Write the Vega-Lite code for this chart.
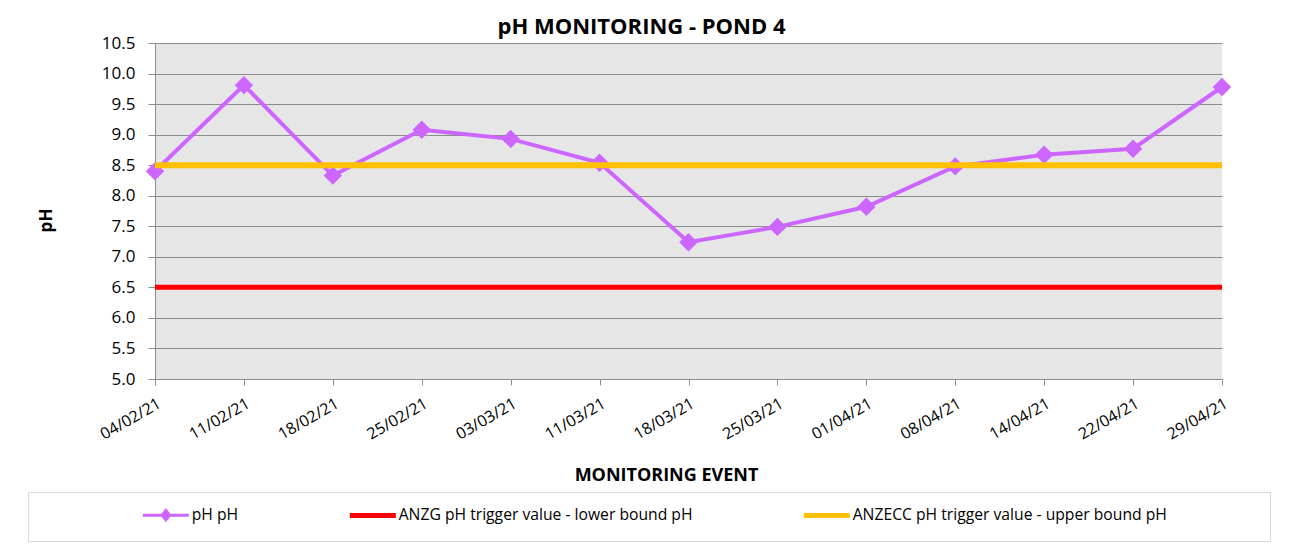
{
  "$schema": "https://vega.github.io/schema/vega-lite/v6.json",
  "width": 1067,
  "height": 336,
  "autosize": {"type": "none"},
  "padding": {"left": 155, "top": 43, "right": 70, "bottom": 175},
  "background": "white",
  "config": {
    "view": {"fill": "#E6E6E6", "stroke": null},
    "font": "Open Sans"
  },
  "title": {
    "text": "pH MONITORING - POND 4",
    "font": "Open Sans",
    "fontSize": 22,
    "fontWeight": "bold",
    "color": "#000000",
    "anchor": "middle",
    "frame": "group",
    "dx": -47,
    "dy": 9,
    "offset": 4
  },
  "data": {
    "values": [
      {"date": "04/02/21", "series": "pH pH", "value": 8.40},
      {"date": "11/02/21", "series": "pH pH", "value": 9.81},
      {"date": "18/02/21", "series": "pH pH", "value": 8.33},
      {"date": "25/02/21", "series": "pH pH", "value": 9.08},
      {"date": "03/03/21", "series": "pH pH", "value": 8.93},
      {"date": "11/03/21", "series": "pH pH", "value": 8.54},
      {"date": "18/03/21", "series": "pH pH", "value": 7.24},
      {"date": "25/03/21", "series": "pH pH", "value": 7.49},
      {"date": "01/04/21", "series": "pH pH", "value": 7.82},
      {"date": "08/04/21", "series": "pH pH", "value": 8.48},
      {"date": "14/04/21", "series": "pH pH", "value": 8.67},
      {"date": "22/04/21", "series": "pH pH", "value": 8.77},
      {"date": "29/04/21", "series": "pH pH", "value": 9.78},
      {"date": "04/02/21", "series": "ANZG pH trigger value - lower bound pH", "value": 6.5},
      {"date": "11/02/21", "series": "ANZG pH trigger value - lower bound pH", "value": 6.5},
      {"date": "18/02/21", "series": "ANZG pH trigger value - lower bound pH", "value": 6.5},
      {"date": "25/02/21", "series": "ANZG pH trigger value - lower bound pH", "value": 6.5},
      {"date": "03/03/21", "series": "ANZG pH trigger value - lower bound pH", "value": 6.5},
      {"date": "11/03/21", "series": "ANZG pH trigger value - lower bound pH", "value": 6.5},
      {"date": "18/03/21", "series": "ANZG pH trigger value - lower bound pH", "value": 6.5},
      {"date": "25/03/21", "series": "ANZG pH trigger value - lower bound pH", "value": 6.5},
      {"date": "01/04/21", "series": "ANZG pH trigger value - lower bound pH", "value": 6.5},
      {"date": "08/04/21", "series": "ANZG pH trigger value - lower bound pH", "value": 6.5},
      {"date": "14/04/21", "series": "ANZG pH trigger value - lower bound pH", "value": 6.5},
      {"date": "22/04/21", "series": "ANZG pH trigger value - lower bound pH", "value": 6.5},
      {"date": "29/04/21", "series": "ANZG pH trigger value - lower bound pH", "value": 6.5},
      {"date": "04/02/21", "series": "ANZECC pH trigger value - upper bound pH", "value": 8.5},
      {"date": "11/02/21", "series": "ANZECC pH trigger value - upper bound pH", "value": 8.5},
      {"date": "18/02/21", "series": "ANZECC pH trigger value - upper bound pH", "value": 8.5},
      {"date": "25/02/21", "series": "ANZECC pH trigger value - upper bound pH", "value": 8.5},
      {"date": "03/03/21", "series": "ANZECC pH trigger value - upper bound pH", "value": 8.5},
      {"date": "11/03/21", "series": "ANZECC pH trigger value - upper bound pH", "value": 8.5},
      {"date": "18/03/21", "series": "ANZECC pH trigger value - upper bound pH", "value": 8.5},
      {"date": "25/03/21", "series": "ANZECC pH trigger value - upper bound pH", "value": 8.5},
      {"date": "01/04/21", "series": "ANZECC pH trigger value - upper bound pH", "value": 8.5},
      {"date": "08/04/21", "series": "ANZECC pH trigger value - upper bound pH", "value": 8.5},
      {"date": "14/04/21", "series": "ANZECC pH trigger value - upper bound pH", "value": 8.5},
      {"date": "22/04/21", "series": "ANZECC pH trigger value - upper bound pH", "value": 8.5},
      {"date": "29/04/21", "series": "ANZECC pH trigger value - upper bound pH", "value": 8.5}
    ]
  },
  "encoding": {
    "x": {
      "field": "date",
      "type": "ordinal",
      "sort": ["04/02/21", "11/02/21", "18/02/21", "25/02/21", "03/03/21", "11/03/21", "18/03/21", "25/03/21", "01/04/21", "08/04/21", "14/04/21", "22/04/21", "29/04/21"],
      "scale": {"type": "point", "padding": 0},
      "axis": {
        "title": "MONITORING EVENT",
        "titleFont": "Open Sans",
        "titleFontSize": 18,
        "titleFontWeight": "bold",
        "titleColor": "#000000",
        "titleX": 511,
        "titleY": 101,
        "titleAlign": "center",
        "titleBaseline": "alphabetic",
        "labelAngle": -30,
        "labelAlign": "right",
        "labelBaseline": "top",
        "labelFont": "Open Sans",
        "labelFontSize": 16,
        "labelColor": "#000000",
        "labelPadding": 10,
        "tickSize": 6,
        "tickColor": "#8C8C8C",
        "domainColor": "#8C8C8C",
        "grid": false,
        "labelOverlap": false
      }
    },
    "y": {
      "field": "value",
      "type": "quantitative",
      "scale": {"domain": [5, 10.5], "nice": false, "zero": false},
      "axis": {
        "values": [5, 5.5, 6, 6.5, 7, 7.5, 8, 8.5, 9, 9.5, 10, 10.5],
        "format": ".1f",
        "title": "pH",
        "titleFont": "Open Sans",
        "titleFontSize": 17,
        "titleFontWeight": "bold",
        "titleColor": "#000000",
        "titleX": -109,
        "titleY": 177,
        "titleAngle": 270,
        "titleAlign": "center",
        "titleBaseline": "middle",
        "labelFont": "Open Sans",
        "labelFontSize": 17,
        "labelColor": "#000000",
        "labelPadding": 13,
        "tickSize": 7,
        "tickColor": "#8C8C8C",
        "domainColor": "#8C8C8C",
        "gridColor": "#8C8C8C",
        "gridWidth": 1
      }
    }
  },
  "layer": [
    {
      "transform": [{"filter": "datum.series === 'pH pH'"}],
      "mark": {"type": "line", "strokeWidth": 4},
      "encoding": {
        "color": {
          "field": "series",
          "type": "nominal",
          "scale": {
            "domain": ["pH pH", "ANZG pH trigger value - lower bound pH", "ANZECC pH trigger value - upper bound pH"],
            "range": ["#CC66FF", "#FF0000", "#FFC000"]
          },
          "legend": {
            "orient": "none",
            "legendX": -127,
            "legendY": 449,
            "direction": "horizontal",
            "columns": 3,
            "title": " ",
            "titleOrient": "right",
            "titleFontSize": 1,
            "titlePadding": 88,
            "strokeColor": "#D9D9D9",
            "fillColor": "white",
            "padding": 15,
            "symbolType": "stroke",
            "symbolSize": 2116,
            "symbolStrokeWidth": 5,
            "symbolOffset": 115,
            "columnPadding": 11,
            "labelFont": "Open Sans",
            "labelFontSize": 15.7,
            "labelColor": "#000000",
            "labelOffset": 18,
            "labelLimit": 800,
            "encode": {
              "symbols": {
                "update": {
                  "shape": {"signal": "datum.value === 'pH pH' ? 'M-1,0L1,0M0,-0.2L0.16,0L0,0.2L-0.16,0Z' : 'stroke'"},
                  "fill": {"signal": "datum.value === 'pH pH' ? '#CC66FF' : 'transparent'"},
                  "strokeWidth": {"signal": "datum.value === 'pH pH' ? 3 : 5"}
                }
              }
            }
          }
        }
      }
    },
    {
      "transform": [{"filter": "datum.series === 'pH pH'"}],
      "mark": {"type": "point", "shape": "diamond", "filled": true, "size": 340, "color": "#CC66FF", "opacity": 1}
    },
    {
      "transform": [{"filter": "datum.series === 'ANZG pH trigger value - lower bound pH'"}],
      "mark": {"type": "line", "strokeWidth": 5},
      "encoding": {"color": {"field": "series", "type": "nominal"}}
    },
    {
      "transform": [{"filter": "datum.series === 'ANZECC pH trigger value - upper bound pH'"}],
      "mark": {"type": "line", "strokeWidth": 6},
      "encoding": {"color": {"field": "series", "type": "nominal"}}
    }
  ]
}
